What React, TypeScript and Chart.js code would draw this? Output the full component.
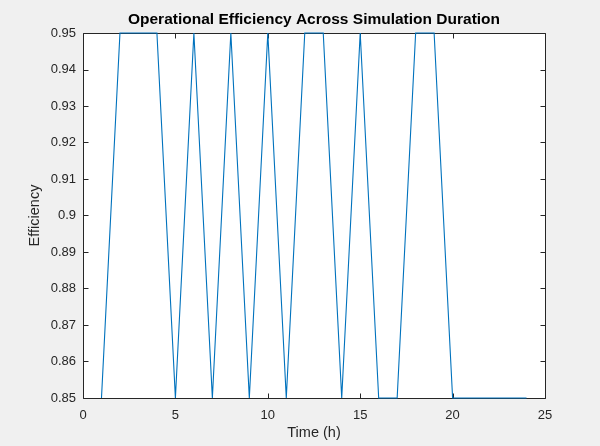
import React, { useEffect, useRef } from "react";
import { Chart, registerables } from "chart.js";

Chart.register(...registerables);

const hours: number[] = [1, 2, 3, 4, 5, 6, 7, 8, 9, 10, 11, 12, 13, 14, 15, 16, 17, 18, 19, 20, 21, 22, 23, 24];
const efficiency: number[] = [
  0.85, 0.95, 0.95, 0.95, 0.85, 0.95, 0.85, 0.95, 0.85, 0.95, 0.85, 0.95,
  0.95, 0.85, 0.95, 0.85, 0.85, 0.95, 0.95, 0.85, 0.85, 0.85, 0.85, 0.85,
];
const xTicks: number[] = [0, 5, 10, 15, 20, 25];
const yTicks: number[] = [0.85, 0.86, 0.87, 0.88, 0.89, 0.9, 0.91, 0.92, 0.93, 0.94, 0.95];
const yTickLabels: string[] = ["0.85", "0.86", "0.87", "0.88", "0.89", "0.9", "0.91", "0.92", "0.93", "0.94", "0.95"];

const FONT = "'Liberation Sans', Arial, Helvetica, sans-serif";
const AXIS_COLOR = "#262626";

const boxPlugin = {
  id: "matlabBox",
  afterLayout(chart: any) {
    const a = chart.chartArea;
    const tb = chart.titleBlock;
    if (tb && a) {
      tb.left = a.left;
      tb.right = a.right;
      tb.width = a.right - a.left;
    }
  },
  beforeDatasetsDraw(chart: any) {
    const { ctx, chartArea: a } = chart;
    ctx.save();
    ctx.fillStyle = "#ffffff";
    ctx.fillRect(a.left, a.top, a.right - a.left, a.bottom - a.top);
    ctx.strokeStyle = AXIS_COLOR;
    ctx.lineWidth = 1;
    ctx.beginPath();
    const L = Math.round(a.left) + 0.5;
    const R = Math.round(a.right) + 0.5;
    const T = Math.round(a.top) + 0.5;
    const B = Math.round(a.bottom) + 0.5;
    ctx.rect(L, T, R - L, B - T);
    const len = 5;
    const xs = chart.scales.x;
    const ys = chart.scales.y;
    xs.ticks.forEach((t: any) => {
      const px = Math.round(xs.getPixelForValue(t.value)) + 0.5;
      ctx.moveTo(px, B);
      ctx.lineTo(px, B - len);
      ctx.moveTo(px, T);
      ctx.lineTo(px, T + len);
    });
    ys.ticks.forEach((t: any) => {
      const py = Math.round(ys.getPixelForValue(t.value)) + 0.5;
      ctx.moveTo(L, py);
      ctx.lineTo(L + len, py);
      ctx.moveTo(R, py);
      ctx.lineTo(R - len, py);
    });
    ctx.stroke();
    ctx.restore();
  },
};

export default function App() {
  const canvasRef = useRef<HTMLCanvasElement | null>(null);

  useEffect(() => {
    if (!canvasRef.current) return;
    const chart = new Chart(canvasRef.current, {
      type: "line",
      data: {
        datasets: [
          {
            data: hours.map((h, i) => ({ x: h, y: efficiency[i] })),
            borderColor: "#0072BD",
            borderWidth: 1.1,
            pointRadius: 0,
            tension: 0,
            fill: false,
            clip: false as any,
          },
        ],
      },
      options: {
        animation: false,
        responsive: true,
        maintainAspectRatio: false,
        layout: { padding: { left: 0, right: 55, top: 0, bottom: 0 } },
        plugins: {
          legend: { display: false },
          tooltip: { enabled: false },
          title: {
            display: true,
            text: "Operational Efficiency Across Simulation Duration",
            color: "#000000",
            font: { family: FONT, size: 15.5, weight: "bold" },
            padding: { top: 10, bottom: 4.4 },
          },
        },
        scales: {
          x: {
            type: "linear",
            min: 0,
            max: 25,
            grid: { display: false, drawTicks: false },
            border: { display: false },
            afterFit: (s: any) => {
              s.height = 48;
            },
            afterBuildTicks: (s: any) => {
              s.ticks = xTicks.map((v) => ({ value: v }));
            },
            ticks: {
              color: AXIS_COLOR,
              font: { family: FONT, size: 13 },
              padding: 10,
              maxRotation: 0,
              callback: (v: any) => String(v),
            },
            title: {
              display: true,
              text: "Time (h)",
              color: AXIS_COLOR,
              font: { family: FONT, size: 14.5 },
              padding: { top: 0, bottom: 4 },
            },
          },
          y: {
            type: "linear",
            min: 0.85,
            max: 0.95,
            grid: { display: false, drawTicks: false },
            border: { display: false },
            afterFit: (s: any) => {
              s.width = 83;
            },
            afterBuildTicks: (s: any) => {
              s.ticks = yTicks.map((v) => ({ value: v }));
            },
            ticks: {
              color: AXIS_COLOR,
              font: { family: FONT, size: 13 },
              padding: 7,
              callback: (_v: any, i: number) => yTickLabels[i],
            },
            title: {
              display: true,
              text: "Efficiency",
              color: AXIS_COLOR,
              font: { family: FONT, size: 14.5 },
              padding: { top: 26, bottom: 0 },
            },
          },
        },
      },
      plugins: [boxPlugin],
    });
    return () => chart.destroy();
  }, []);

  return (
    <div
      style={{
        position: "fixed",
        left: 0,
        top: 0,
        width: 600,
        height: 446,
        background: "#f0f0f0",
      }}
    >
      <canvas ref={canvasRef} />
    </div>
  );
}
